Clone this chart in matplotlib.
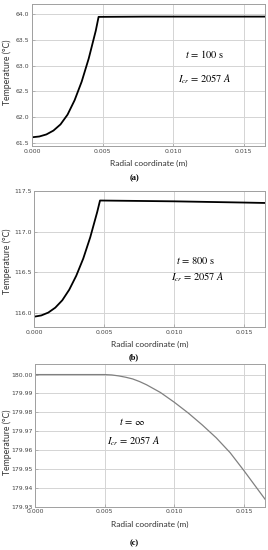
import matplotlib
matplotlib.use("Agg")
import matplotlib.pyplot as plt
from matplotlib.ticker import FormatStrFormatter

plt.rcParams['mathtext.fontset'] = 'stix'
plt.rcParams['font.family'] = ['DejaVu Sans']

# Panel (a): t = 100 s
r_a = [0.0, 0.0005, 0.001, 0.0015, 0.002, 0.0025, 0.003, 0.0035, 0.004, 0.0045, 0.0047,
       0.008, 0.012, 0.0165]
T_a = [61.61, 61.625, 61.665, 61.74, 61.86, 62.05, 62.33, 62.69, 63.14, 63.68, 63.95,
       63.955, 63.955, 63.955]

# Panel (b): t = 800 s
r_b = [0.0, 0.0005, 0.001, 0.0015, 0.002, 0.0025, 0.003, 0.0035, 0.004, 0.0045, 0.0047,
       0.010, 0.015, 0.0165]
T_b = [115.96, 115.975, 116.01, 116.07, 116.16, 116.29, 116.46, 116.67, 116.93, 117.24, 117.38,
       117.37, 117.355, 117.35]

# Panel (c): t = infinity
r_c = [0.0, 0.005, 0.0055, 0.006, 0.0065, 0.007, 0.0075, 0.008, 0.009, 0.010, 0.011, 0.012,
       0.013, 0.014, 0.015, 0.016, 0.0165]
T_c = [180.0, 180.0, 179.9998, 179.9993, 179.9986, 179.9977, 179.9963, 179.9946, 179.9905,
       179.9853, 179.9796, 179.9733, 179.9665, 179.9586, 179.949, 179.939, 179.934]

x_ticks = [0.000, 0.005, 0.010, 0.015]
y_ticks_a = [61.5, 62.0, 62.5, 63.0, 63.5, 64.0]
y_ticks_b = [116.0, 116.5, 117.0, 117.5]
y_ticks_c = [179.93, 179.94, 179.95, 179.96, 179.97, 179.98, 179.99, 180.00]

W, H = 268, 550
fig = plt.figure(figsize=(W / 100, H / 100), dpi=100)


def px_axes(left, top, right, bottom):
    return fig.add_axes([left / W, 1 - bottom / H, (right - left) / W, (bottom - top) / H])


panels = [
    dict(box=(32.3, 3.5, 265, 146), r=r_a, T=T_a, yt=y_ticks_a, ylim=(61.44, 64.21), fmt='%.1f',
         color='black', lw=1.3, t=r'$t$ = 100 s', tx=0.74, ty=0.645, ix=0.74, iy=0.47,
         lab='(a)', laby=178, xlaby=163, ylaby=72),
    dict(box=(34.3, 190.7, 265, 327.3), r=r_b, T=T_b, yt=y_ticks_b, ylim=(115.83, 117.5), fmt='%.1f',
         color='black', lw=1.3, t=r'$t$ = 800 s', tx=0.70, ty=0.49, ix=0.71, iy=0.37,
         lab='(b)', laby=357, xlaby=344, ylaby=261),
    dict(box=(35, 364, 265, 506.7), r=r_c, T=T_c, yt=y_ticks_c, ylim=(179.93, 180.0056), fmt='%.2f',
         color='#808080', lw=0.9, t=r'$t$ = ∞', tx=0.42, ty=0.595, ix=0.43, iy=0.46,
         lab='(c)', laby=543, xlaby=524, ylaby=442),
]

for p in panels:
    l, t, rr, b = p['box']
    ax = px_axes(l, t, rr, b)
    ax.plot(p['r'], p['T'], color=p['color'], lw=p['lw'])
    ax.set_xlim(0, 0.0165)
    ax.set_ylim(*p['ylim'])
    ax.set_xticks(x_ticks)
    ax.set_yticks(p['yt'])
    ax.xaxis.set_major_formatter(FormatStrFormatter('%.3f'))
    ax.yaxis.set_major_formatter(FormatStrFormatter(p['fmt']))
    ax.grid(True, color='#d4d4d4', lw=0.7)
    ax.set_axisbelow(True)
    for s in ax.spines.values():
        s.set_color('#a0a0a0')
        s.set_linewidth(0.7)
    ax.tick_params(direction='in', length=2, width=0.5, color='#a0a0a0',
                   labelsize=4.4, labelcolor='#444444', pad=2)
    fig.text(7 / W, 1 - p['ylaby'] / H, 'Temperature (°C)', fontsize=6.2, family='Lato',
             color='#333333', rotation=90, ha='center', va='center')
    ax.text(p['tx'], p['ty'], p['t'], transform=ax.transAxes, fontsize=7.5,
            family='STIXGeneral', ha='center', va='center')
    ax.text(p['ix'], p['iy'], r'$I_{cr}$ = 2057 $A$', transform=ax.transAxes, fontsize=7.5,
            family='STIXGeneral', ha='center', va='center')
    fig.text((l + rr) / 2 / W, 1 - p['xlaby'] / H, 'Radial coordinate (m)', fontsize=6,
             family='Lato', color='#333333', ha='center', va='center')
    fig.text(134 / W, 1 - p['laby'] / H, p['lab'], fontsize=6, family='Liberation Serif',
             weight='bold', ha='center', va='center')

fig.savefig('out.png', dpi=100)
